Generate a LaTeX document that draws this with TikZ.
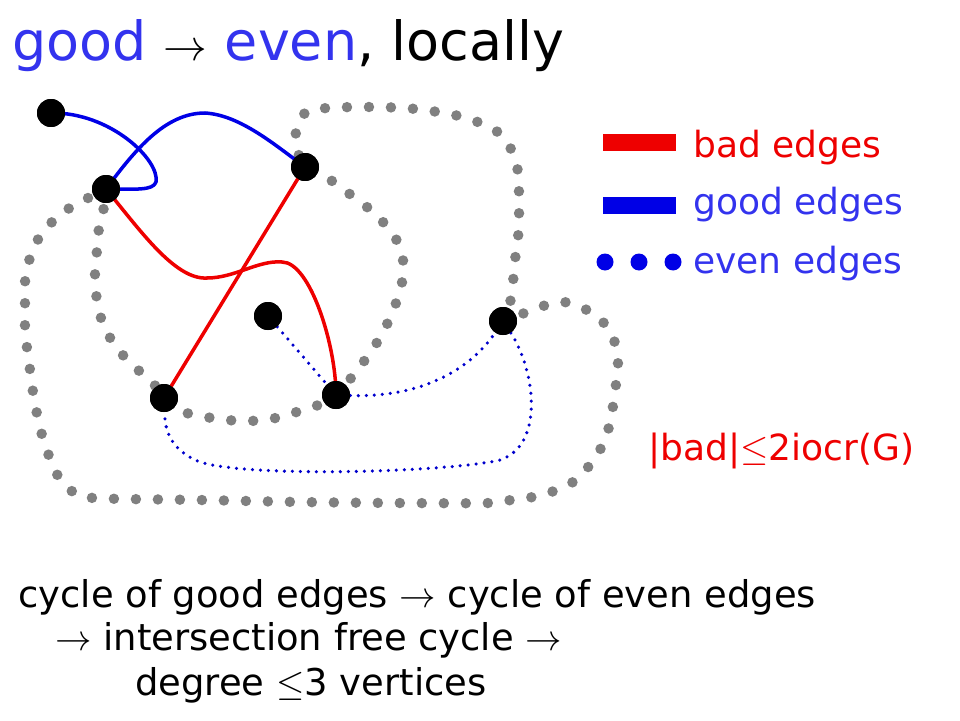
\documentclass[tikz,border=0pt]{standalone}
\usepackage{amsmath,amssymb}
\usepackage{fontspec}
\setmainfont{DejaVu Sans}
\usepackage{xcolor}
\definecolor{titleblue}{RGB}{51,51,238}
\definecolor{edgeblue}{RGB}{0,0,230}
\definecolor{evenblue}{RGB}{0,0,204}
\definecolor{cyclegray}{RGB}{128,128,128}
\definecolor{badred}{RGB}{238,0,0}
\tikzset{
	vertex/.style={circle,fill=black,inner sep=0pt,minimum size=0.56cm},
	goodedge/.style={edgeblue,line width=2pt},
	badedge/.style={badred,line width=2pt},
	evenedge/.style={evenblue,line width=2pt,line cap=round,dash pattern=on 0pt off 0.16cm},
	cycledots/.style={cyclegray,line width=0.21cm,line cap=round,dash pattern=on 0pt off 0.44cm},
	legendlab/.style={anchor=base west,inner sep=0pt,font=\fontsize{20.5}{24}\selectfont},
	caption/.style={anchor=base west,inner sep=0pt,font=\fontsize{21}{25}\selectfont}
}

\begin{document}
\begin{tikzpicture}[line cap=round,line join=round,x=0.02cm,y=-0.02cm]
			\useasboundingbox (0,0) rectangle (960,720);
			% vertices
			\node[vertex] (A) at (51,113) {};
			\node[vertex] (B) at (106,189) {};
			\node[vertex] (C) at (305,167) {};
			\node[vertex] (D) at (268,316) {};
			\node[vertex] (E) at (503,321) {};
			\node[vertex] (F) at (164,398) {};
			\node[vertex] (G) at (336,395) {};
			% the long dotted cycle
			\draw[cycledots] plot[smooth cycle,tension=0.6] coordinates {(B.center) (88,198) (68,209) (51,223) (37,241) (29,261) (25,282) (25,304) (25,327) (27,348) (30,370) (33,392) (37,414) (42,435) (49,456) (58,476) (73,492) (94,498) (200,500) (300,502) (400,503) (489,503) (511,500) (533,497) (554,491) (573,482) (589,466) (601,448) (609,427) (613,406) (616,384) (618,362) (614,340) (603,322) (585,309) (564,302) (543,306) (522,314) (E.center) (510,303) (513,282) (515,260) (518,238) (519,216) (519,194) (518,172) (512,151) (499,133) (480,123) (459,116) (416,109) (371,107) (328,108) (306,112) (296,131) (298,152) (C.center) (326,177) (344,190) (362,203) (378,217) (393,234) (402,254) (403,276) (398,297) (390,318) (380,337) (368,356) (G.center) (313,407) (293,413) (271,419) (249,421) (227,420) (206,417) (184,412) (F.center) (153,383) (137,369) (121,353) (109,336) (100,315) (96,293) (95,272) (97,250) (99,228) (104,207)};
			% good edges
			\draw[goodedge] (A.center) .. controls (110,112) and (160,160) .. (156,182) .. controls (153,191) and (135,189) .. (B.center);
			\draw[goodedge] (B.center) .. controls (135,150) and (165,113) .. (205,113) .. controls (240,115) and (275,145) .. (C.center);
			% bad edges
			\draw[badedge] (B.center) .. controls (140,230) and (175,280) .. (207,278) .. controls (235,278) and (258,260) .. (282,262) .. controls (310,262) and (336,345) .. (G.center);
			\draw[badedge] (C.center) -- (F.center);
			% even edges
			\draw[evenedge] (D) -- (G);
			\draw[evenedge] (G) .. controls (420,398) and (470,370) .. (E);
			\draw[evenedge] (E) .. controls (535,370) and (545,445) .. (500,460) .. controls (450,472) and (250,478) .. (200,462) .. controls (170,450) and (165,430) .. (F);
			% vertices again on top
			\foreach \v in {A,B,C,D,E,F,G}
				\fill (\v) circle (0.28cm);
			% title
			\node[anchor=base west,inner sep=0pt,font=\fontsize{30.7}{36}\selectfont] (title) at (12,60) {\textcolor{titleblue}{good} $\rightarrow$ \textcolor{titleblue}{even}, locally};
			% legend
			\fill[badred] (603,134) rectangle (676,151);
			\fill[edgeblue] (603,197) rectangle (676,214);
			\foreach \x in {605,639,673}
				\fill[edgeblue] (\x,262) circle (0.17cm);
			\node[legendlab,badred] (badlab) at (693,157) {bad edges};
			\node[legendlab,titleblue] (goodlab) at (693,214) {good edges};
			\node[legendlab,titleblue] (evenlab) at (693,273) {even edges};
			\node[legendlab,badred] (bound) at (648,460) {|bad|$\leq$2iocr(G)};
			% bottom text
			\node[caption] (line1) at (18,607) {cycle of good edges $\rightarrow$ cycle of even edges};
			\node[caption] (line2) at (55,650) {$\rightarrow$ intersection free cycle $\rightarrow$};
			\node[caption] (line3) at (135,695) {degree $\leq$3 vertices};
\end{tikzpicture}
\end{document}
